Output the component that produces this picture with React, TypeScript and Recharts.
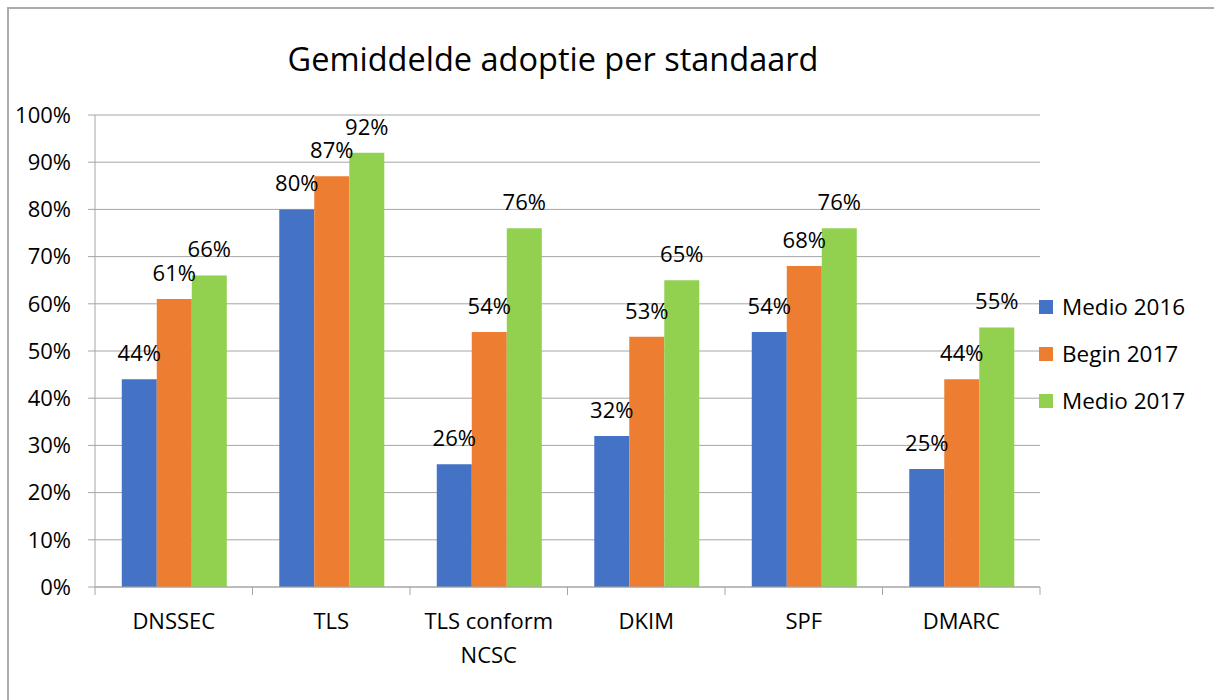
import React from "react";
import {
  BarChart, Bar, XAxis, YAxis, CartesianGrid, Legend, LabelList,
} from "recharts";

const FONT = "'Open Sans', 'Liberation Sans', sans-serif";

const categories = ["DNSSEC", "TLS", "TLS conform NCSC", "DKIM", "SPF", "DMARC"];
const medio2016 = [44, 80, 26, 32, 54, 25];
const begin2017 = [61, 87, 54, 53, 68, 44];
const medio2017 = [66, 92, 76, 65, 76, 55];
const yTicks = [0, 10, 20, 30, 40, 50, 60, 70, 80, 90, 100];

const SERIES = [
  { key: "m16", name: "Medio 2016", color: "#4472C4" },
  { key: "b17", name: "Begin 2017", color: "#ED7D31" },
  { key: "m17", name: "Medio 2017", color: "#92D050" },
];

const data = categories.map((name, i) => ({
  name,
  m16: medio2016[i],
  b17: begin2017[i],
  m17: medio2017[i],
}));

// greedy word wrap, like the original's narrow category slots
const wrap = (s: string, max = 12) => {
  const lines: string[] = [];
  let cur = "";
  s.split(" ").forEach((w) => {
    if (cur && (cur + " " + w).length > max) {
      lines.push(cur);
      cur = w;
    } else {
      cur = cur ? cur + " " + w : w;
    }
  });
  if (cur) lines.push(cur);
  return lines;
};

const CatTick = ({
  x = 0, y = 0, index = 0, payload,
}: {
  x?: number; y?: number; index?: number;
  payload?: { value: string; offset?: number };
}) => {
  const half = payload?.offset ?? 0;
  const lines = wrap(String(payload?.value ?? ""));
  return (
    <g>
      {/* tick marks sit between the categories */}
      <line x1={x - half} x2={x - half} y1={y} y2={y + 8} stroke="#a6a6a6" />
      {index === categories.length - 1 && (
        <line x1={x + half} x2={x + half} y1={y} y2={y + 8} stroke="#a6a6a6" />
      )}
      <text x={x} y={y + 42} textAnchor="middle" fill="#000" style={{ fontSize: 22, fontFamily: FONT }}>
        {lines.map((l, i) => (
          <tspan key={i} x={x} dy={i === 0 ? 0 : 34}>{l}</tspan>
        ))}
      </text>
    </g>
  );
};

const LegendBox = () => (
  <div style={{ fontFamily: FONT, fontSize: 22.5, color: "#000" }}>
    {SERIES.map((s) => (
      <div key={s.key} style={{ display: "flex", alignItems: "center", height: 47 }}>
        <span style={{ width: 14, height: 14, background: s.color, display: "inline-block", marginRight: 9 }} />
        <span style={{ whiteSpace: "nowrap" }}>{s.name}</span>
      </div>
    ))}
  </div>
);

export default function App() {
  return (
    <div style={{ position: "absolute", left: 0, top: 0, width: 1214, height: 700, overflow: "hidden", background: "#fff" }}>
      {/* chart frame (only left/top edges are visible) */}
      <div
        style={{
          position: "absolute", left: 7, top: 7, width: 1300, height: 800,
          borderLeft: "2px solid #ababab", borderTop: "2px solid #ababab",
        }}
      />
      <div
        style={{
          position: "absolute", left: 553, top: 36, transform: "translateX(-50%)",
          fontFamily: FONT, fontSize: 32.5, color: "#000", whiteSpace: "nowrap",
        }}
      >
        Gemiddelde adoptie per standaard
      </div>
      <div style={{ position: "absolute", left: 0, top: 0 }}>
        <BarChart
          width={1214}
          height={700}
          data={data}
          margin={{ top: 115, right: 174, bottom: 0, left: 0 }}
          barCategoryGap="17%"
          barGap={0}
        >
          <CartesianGrid vertical={false} stroke="#a6a6a6" />
          <XAxis
            dataKey="name"
            stroke="#a6a6a6"
            tickLine={false}
            tickSize={0}
            tickMargin={0}
            height={113}
            interval={0}
            tick={<CatTick />}
          />
          <YAxis
            width={95}
            domain={[0, 100]}
            ticks={yTicks}
            tickFormatter={(v: number) => `${v}%`}
            tickSize={7}
            tickMargin={17}
            stroke="#a6a6a6"
            tick={{ fill: "#000", fontSize: 22, fontFamily: FONT }}
          />
          <Legend
            layout="vertical"
            align="center"
            verticalAlign="middle"
            content={<LegendBox />}
            wrapperStyle={{ left: 1039, top: 283, width: 175 }}
          />
          {SERIES.map((s) => (
            <Bar key={s.key} dataKey={s.key} name={s.name} fill={s.color} isAnimationActive={false}>
              <LabelList
                dataKey={s.key}
                position="top"
                offset={18}
                formatter={(v: number) => `${v}%`}
                style={{ fill: "#000", fontSize: 22, fontFamily: FONT }}
              />
            </Bar>
          ))}
        </BarChart>
      </div>
    </div>
  );
}
